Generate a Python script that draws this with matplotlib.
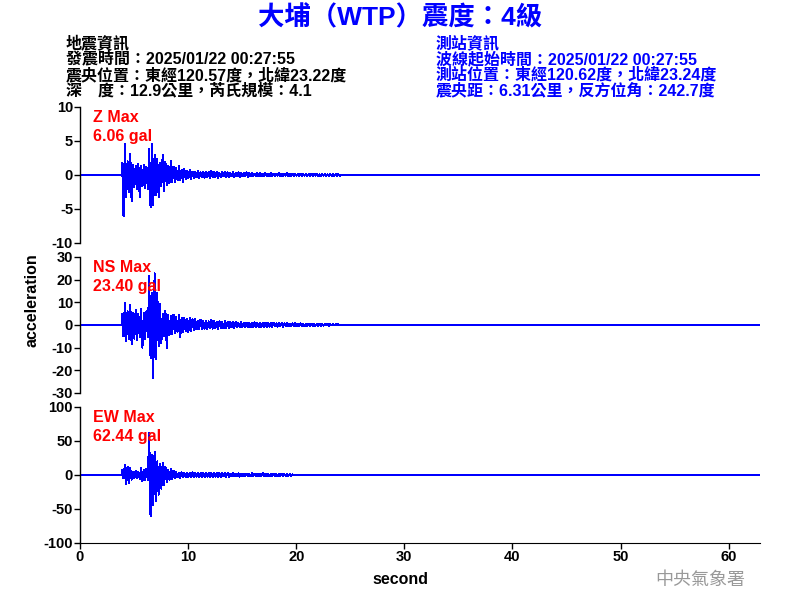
import numpy as np
import matplotlib
matplotlib.use('Agg')
from matplotlib import pyplot as plt

plt.rcParams['font.family'] = ['Liberation Sans', 'Noto Sans CJK TC', 'DejaVu Sans']

# sampled peak envelope of each trace (gal), one value every 0.25 s from 3.9 s
t_start = 3.9
step = 0.25

upper_z = [1.8, 4.6, 2.0, 3.1, 1.5, 1.4, 1.6, 1.3, 1.5, 1.2,
           3.9, 4.5, 3.0, 2.4, 1.8, 2.9, 1.9, 1.4, 2.0, 1.2,
           1.0, 1.4, 0.8, 0.9, 0.6, 0.7, 0.5, 0.5, 0.6, 0.4,
           0.5, 0.4, 0.5, 0.6, 0.4, 0.5, 0.3, 0.4, 0.5, 0.4,
           0.3, 0.4, 0.3, 0.4, 0.3, 0.3, 0.4, 0.3, 0.3, 0.2,
           0.3, 0.3, 0.2, 0.3, 0.2, 0.3, 0.2, 0.2, 0.3, 0.2,
           0.2, 0.3, 0.2, 0.2, 0.1, 0.2, 0.2, 0.1, 0.2, 0.1,
           0.2, 0.1, 0.2, 0.1, 0.1, 0.2, 0.1, 0.1, 0.1, 0.1,
           0.1]
lower_z = [-6.06, -3.2, -2.5, -3.9, -1.8, -2.0, -3.2, -1.7, -1.9, -2.1,
           -4.7, -4.4, -3.0, -3.2, -1.6, -2.3, -1.5, -1.2, -1.0, -1.1,
           -0.8, -0.7, -1.0, -0.6, -0.5, -0.6, -0.4, -0.3, -0.4, -0.3,
           -0.4, -0.3, -0.4, -0.3, -0.3, -0.4, -0.3, -0.2, -0.3, -0.3,
           -0.2, -0.3, -0.2, -0.3, -0.2, -0.2, -0.3, -0.2, -0.2, -0.2,
           -0.2, -0.2, -0.1, -0.2, -0.2, -0.1, -0.2, -0.1, -0.2, -0.1,
           -0.1, -0.2, -0.1, -0.1, -0.1, -0.1, -0.2, -0.1, -0.1, -0.1,
           -0.1, -0.1, -0.1, -0.2, -0.1, -0.1, -0.1, -0.1, -0.1, -0.1,
           -0.1]

upper_ns = [5.0, 9.6, 6.0, 8.8, 5.5, 6.5, 4.8, 7.0, 5.2, 6.0,
            21.6, 14.0, 22.8, 14.0, 9.5, 5.0, 6.3, 4.4, 4.0, 4.5,
            3.5, 4.3, 3.0, 3.2, 2.8, 3.0, 2.5, 2.6, 2.0, 2.4,
            1.8, 2.0, 1.6, 2.2, 1.8, 1.5, 1.7, 1.4, 1.6, 1.3,
            1.5, 1.2, 1.4, 1.0, 1.2, 1.0, 1.1, 0.9, 1.0, 1.2,
            0.9, 1.0, 0.8, 1.0, 0.9, 0.8, 0.9, 0.7, 0.8, 0.9,
            0.7, 0.8, 0.6, 0.7, 0.8, 0.6, 0.7, 0.5, 0.6, 0.5,
            0.6, 0.4, 0.5, 0.4, 0.5, 0.3, 0.4, 0.3, 0.4, 0.3,
            0.3, 0.2]
lower_ns = [-5.0, -7.0, -6.0, -8.4, -6.0, -6.5, -5.5, -10.0, -6.0, -5.5,
            -14.7, -23.4, -15.0, -9.5, -8.0, -5.0, -10.0, -4.4, -4.0, -3.5,
            -3.0, -5.4, -3.0, -2.8, -3.0, -2.5, -2.2, -2.0, -1.8, -2.0,
            -1.6, -1.8, -1.5, -1.6, -1.4, -1.7, -1.3, -1.5, -1.2, -1.3,
            -1.1, -1.2, -1.0, -1.1, -0.9, -1.0, -0.9, -1.0, -0.8, -0.9,
            -0.8, -0.9, -0.7, -0.8, -0.7, -0.8, -0.6, -0.7, -0.6, -0.7,
            -0.5, -0.6, -0.5, -0.6, -0.4, -0.5, -0.4, -0.5, -0.4, -0.4,
            -0.3, -0.4, -0.3, -0.3, -0.3, -0.2, -0.3, -0.2, -0.2, -0.2,
            -0.2, -0.1]

upper_ew = [8.0, 14.7, 12.0, 10.0, 5.0, 6.0, 4.5, 10.0, 8.0, 9.0,
            62.4, 30.0, 34.0, 20.0, 17.0, 18.0, 12.0, 8.0, 8.5, 6.0,
            4.0, 3.5, 4.0, 3.0, 3.5, 3.0, 3.8, 2.8, 3.2, 3.0,
            3.5, 2.5, 3.0, 2.8, 3.2, 2.5, 3.0, 2.6, 2.5, 3.0,
            2.2, 2.5, 2.0, 2.4, 2.0, 2.2, 1.8, 2.0, 2.4, 2.0,
            2.2, 1.8, 2.5, 2.0, 2.2, 1.5, 2.0, 1.8, 1.5, 2.0,
            1.5, 1.2, 1.5, 1.0]
lower_ew = [-5.0, -13.0, -12.0, -7.0, -5.0, -4.0, -6.0, -9.0, -7.0, -8.0,
            -61.0, -44.0, -39.0, -29.0, -20.0, -15.0, -10.0, -7.0, -6.0, -5.0,
            -3.5, -4.0, -3.0, -3.4, -2.8, -3.5, -3.0, -2.6, -3.2, -2.8,
            -3.0, -2.5, -2.8, -3.2, -2.4, -2.6, -3.0, -2.2, -2.5, -2.4,
            -2.0, -2.2, -1.8, -2.4, -2.0, -1.8, -2.2, -1.6, -2.0, -1.8,
            -2.0, -1.5, -1.8, -2.2, -1.6, -1.8, -1.4, -1.6, -1.5, -1.2,
            -1.4, -1.0, -1.2, -0.8]

components = ['Z', 'NS', 'EW']
max_pga = ['6.06', '23.40', '62.44']
ylims = [10, 30, 100]
ytick_steps = [5, 10, 50]
record_end = 62.9

title = '大埔（WTP）震度：4級'
quake_info = ['地震資訊',
              '發震時間：2025/01/22 00:27:55',
              '震央位置：東經120.57度，北緯23.22度',
              '深\u3000度：12.9公里，芮氏規模：4.1']
station_info = ['測站資訊',
                '波線起始時間：2025/01/22 00:27:55',
                '測站位置：東經120.62度，北緯23.24度',
                '震央距：6.31公里，反方位角：242.7度']


def make_trace(upper, lower):
    n = len(upper)
    tu = t_start + step * np.arange(n)
    t = np.empty(2 * n)
    a = np.empty(2 * n)
    t[0::2] = tu
    t[1::2] = tu + step / 2
    a[0::2] = upper
    a[1::2] = lower
    t = np.concatenate([[0, t_start - 0.05], t, [t[-1] + 0.1, record_end]])
    a = np.concatenate([[0, 0], a, [0, 0]])
    return t, a


traces = [make_trace(upper_z, lower_z),
          make_trace(upper_ns, lower_ns),
          make_trace(upper_ew, lower_ew)]

fig = plt.figure(figsize=(8, 6), dpi=100)
W, H = 800, 600
tops = [107, 257, 407]

for i, comp in enumerate(components):
    top = tops[i]
    ax = fig.add_axes([80 / W, 1 - (top + 136) / H, 680 / W, 136 / H])
    t, a = traces[i]
    ax.plot(t, a, color='#0000ff', lw=0.72, antialiased=False)
    ax.set_xlim(0, record_end)
    lim = ylims[i]
    ax.set_ylim(-lim, lim)
    ax.set_yticks(np.arange(-lim, lim + 1, ytick_steps[i]))
    ax.set_yticklabels([str(v) for v in np.arange(-lim, lim + 1, ytick_steps[i])],
                       fontsize=10.5, fontweight='bold')
    for s in ['top', 'right']:
        ax.spines[s].set_visible(False)
    ax.spines['left'].set_linewidth(1)
    ax.tick_params(direction='out', length=4, width=1, pad=1)
    if i < 2:
        ax.spines['bottom'].set_visible(False)
        ax.set_xticks([])
    else:
        ax.set_xticks(range(0, 61, 10))
        ax.set_xticklabels([str(v) for v in range(0, 61, 10)], fontsize=10.5, fontweight='bold')
    fig.text(93 / W, 1 - (top + 11) / H, comp + ' Max', color='#ff0000',
             fontsize=11.5, fontweight='bold', va='center')
    fig.text(93 / W, 1 - (top + 30) / H, max_pga[i] + ' gal', color='#ff0000',
             fontsize=11.5, fontweight='bold', va='center')

fig.text(400 / W, 1 - 18 / H, title, color='#0000ff', fontsize=19,
         fontweight='bold', ha='center', va='center')
rows_y = [43, 59, 75, 91]
for y, s in zip(rows_y, quake_info):
    fig.text(66 / W, 1 - y / H, s, color='black', fontsize=11.5, fontweight='bold', va='center')
for y, s in zip(rows_y, station_info):
    fig.text(436 / W, 1 - y / H, s, color='#0000ff', fontsize=11.5, fontweight='bold', va='center')

fig.text(32 / W, 1 - 300 / H, 'acceleration', rotation=90, fontsize=11.5,
         fontweight='bold', ha='center', va='center')
fig.text(400 / W, 1 - 580 / H, 'second', fontsize=11.5, fontweight='bold',
         ha='center', va='center')
fig.text(700 / W, 1 - 580 / H, '中央氣象署', color='#999999', fontsize=13,
         ha='center', va='center')

fig.savefig('out.png', dpi=100)
